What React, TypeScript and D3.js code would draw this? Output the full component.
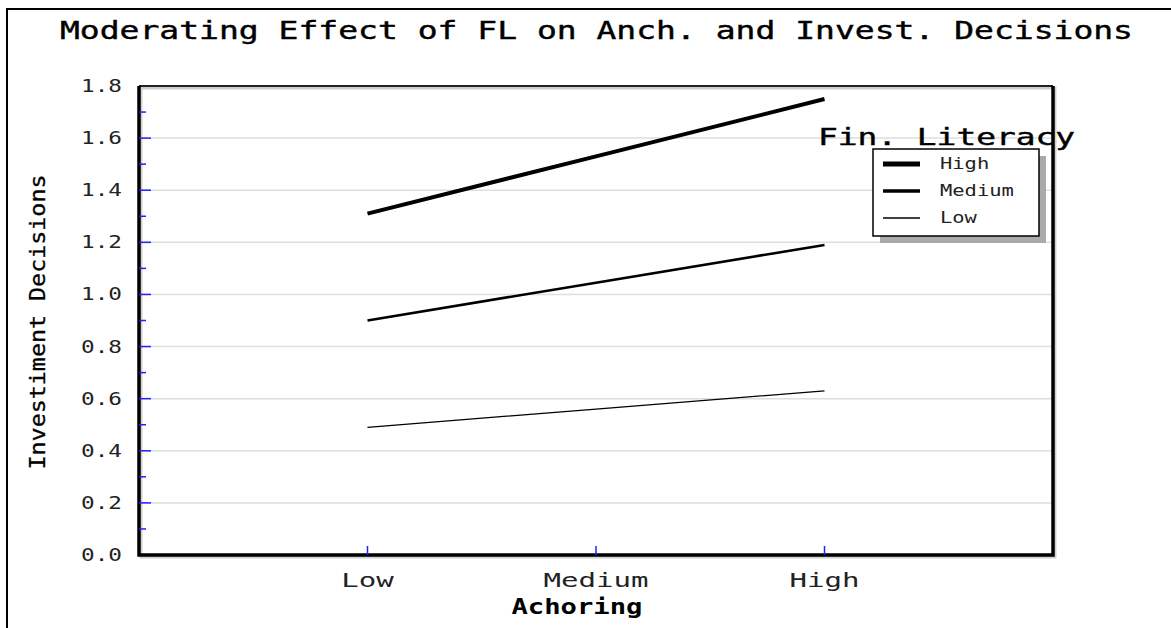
import React from "react";
import * as d3 from "d3";

// values
const categories = ["Low", "Medium", "High"];
const highFL = [1.31, 1.53, 1.75];
const mediumFL = [0.9, 1.045, 1.19];
const lowFL = [0.49, 0.56, 0.63];
const yMajorTicks = [0, 0.2, 0.4, 0.6, 0.8, 1.0, 1.2, 1.4, 1.6, 1.8];
const yMinorTicks = [0.1, 0.3, 0.5, 0.7, 0.9, 1.1, 1.3, 1.5, 1.7];

const seriesList = [
  { name: "High", values: highFL, width: 4 },
  { name: "Medium", values: mediumFL, width: 2.6 },
  { name: "Low", values: lowFL, width: 1.3 },
];

const FONT = "'DejaVu Sans Mono', 'Liberation Mono', monospace";
const W = 1171;
const H = 628;
const plot = { left: 139, top: 86, right: 1053, bottom: 555 };
const FIT = "spacingAndGlyphs";

export default function App() {
  const x = d3
    .scalePoint<string>()
    .domain(categories)
    .range([plot.left, plot.right])
    .padding(1);
  const y = d3.scaleLinear().domain([0, 1.8]).range([plot.bottom, plot.top]);

  const line = d3
    .line<number>()
    .x((_, i) => x(categories[i]) as number)
    .y((d) => y(d));

  const legend = { x: 873, y: 149, w: 166, h: 87 };

  return (
    <svg
      width={W}
      height={H}
      style={{ position: "absolute", left: 0, top: 0, background: "#fff" }}
    >
      {/* outer frame */}
      <path d={`M7,${H} V9 H${W}`} fill="none" stroke="#000" strokeWidth={2} />

      {/* title */}
      <text
        x={60}
        y={39}
        fontFamily={FONT}
        fontSize={24}
        textLength={1073}
        lengthAdjust={FIT}
        fill="#000"
        stroke="#000"
        strokeWidth={0.4}
      >
        Moderating Effect of FL on Anch. and Invest. Decisions
      </text>

      {/* gridlines */}
      {yMajorTicks
        .filter((t) => t > 0 && t < 1.8)
        .map((t) => (
          <line
            key={"g" + t}
            x1={plot.left}
            x2={plot.right}
            y1={y(t)}
            y2={y(t)}
            stroke="#dedede"
            strokeWidth={1.5}
          />
        ))}

      {/* plot frame shadow + frame */}
      <rect
        x={plot.left + 2}
        y={plot.top + 2}
        width={plot.right - plot.left}
        height={plot.bottom - plot.top}
        fill="none"
        stroke="#cfcfcf"
        strokeWidth={3}
      />
      <line x1={plot.left} x2={plot.right} y1={plot.top} y2={plot.top} stroke="#222" strokeWidth={2} />
      <path
        d={`M${plot.left},${plot.top} V${plot.bottom} H${plot.right} V${plot.top}`}
        fill="none"
        stroke="#000"
        strokeWidth={3.5}
      />

      {/* y ticks */}
      {yMajorTicks
        .filter((t) => t > 0 && t < 1.8)
        .map((t) => (
          <line key={"M" + t} x1={plot.left} x2={plot.left + 12} y1={y(t)} y2={y(t)} stroke="#2020ff" strokeWidth={1.5} />
        ))}
      {yMinorTicks.map((t) => (
        <line key={"m" + t} x1={plot.left} x2={plot.left + 7} y1={y(t)} y2={y(t)} stroke="#2020ff" strokeWidth={1.5} />
      ))}
      {yMajorTicks.map((t) => (
        <text
          key={"l" + t}
          x={122}
          y={y(t) + 6}
          textAnchor="end"
          fontFamily={FONT}
          fontSize={17}
          textLength={41}
          lengthAdjust={FIT}
          fill="#222"
        >
          {t.toFixed(1)}
        </text>
      ))}

      {/* x ticks */}
      {categories.map((c) => (
        <g key={c}>
          <line
            x1={x(c)}
            x2={x(c)}
            y1={plot.bottom}
            y2={plot.bottom - 9}
            stroke="#2020ff"
            strokeWidth={1.5}
          />
          <text
            x={x(c)}
            y={587}
            textAnchor="middle"
            fontFamily={FONT}
            fontSize={19}
            textLength={c.length * 17.5}
            lengthAdjust={FIT}
            fill="#222"
          >
            {c}
          </text>
        </g>
      ))}

      {/* axis titles */}
      <text
        x={577}
        y={614}
        textAnchor="middle"
        fontFamily={FONT}
        fontSize={21}
        fontWeight="bold"
        textLength={131}
        lengthAdjust={FIT}
        fill="#000"
      >
        Achoring
      </text>
      <text
        transform={`translate(45,322) rotate(-90)`}
        textAnchor="middle"
        fontFamily={FONT}
        fontSize={22}
        textLength={295}
        lengthAdjust={FIT}
        fill="#000"
        stroke="#000"
        strokeWidth={0.3}
      >
        Investiment Decisions
      </text>

      {/* series */}
      {seriesList.map((s) => (
        <path
          key={s.name}
          d={line(s.values) as string}
          fill="none"
          stroke="#000"
          strokeWidth={s.width}
        />
      ))}

      {/* legend */}
      <text
        x={818}
        y={145}
        fontFamily={FONT}
        fontSize={23}
        textLength={257}
        lengthAdjust={FIT}
        fill="#000"
        stroke="#000"
        strokeWidth={0.4}
      >
        Fin. Literacy
      </text>
      <rect x={legend.x + 7} y={legend.y + 7} width={legend.w} height={legend.h} fill="#aaa" />
      <rect
        x={legend.x}
        y={legend.y}
        width={legend.w}
        height={legend.h}
        fill="#fff"
        stroke="#000"
        strokeWidth={1.5}
      />
      {seriesList.map((s, i) => (
        <g key={"lg" + s.name}>
          <line
            x1={legend.x + 10}
            x2={legend.x + 47}
            y1={legend.y + 15 + i * 27}
            y2={legend.y + 15 + i * 27}
            stroke="#000"
            strokeWidth={i === 0 ? 5 : i === 1 ? 3.5 : 1.5}
          />
          <text
            x={legend.x + 67}
            y={legend.y + 20 + i * 27}
            fontFamily={FONT}
            fontSize={16}
            textLength={s.name.length * 12.3}
            lengthAdjust={FIT}
            fill="#222"
          >
            {s.name}
          </text>
        </g>
      ))}
    </svg>
  );
}
